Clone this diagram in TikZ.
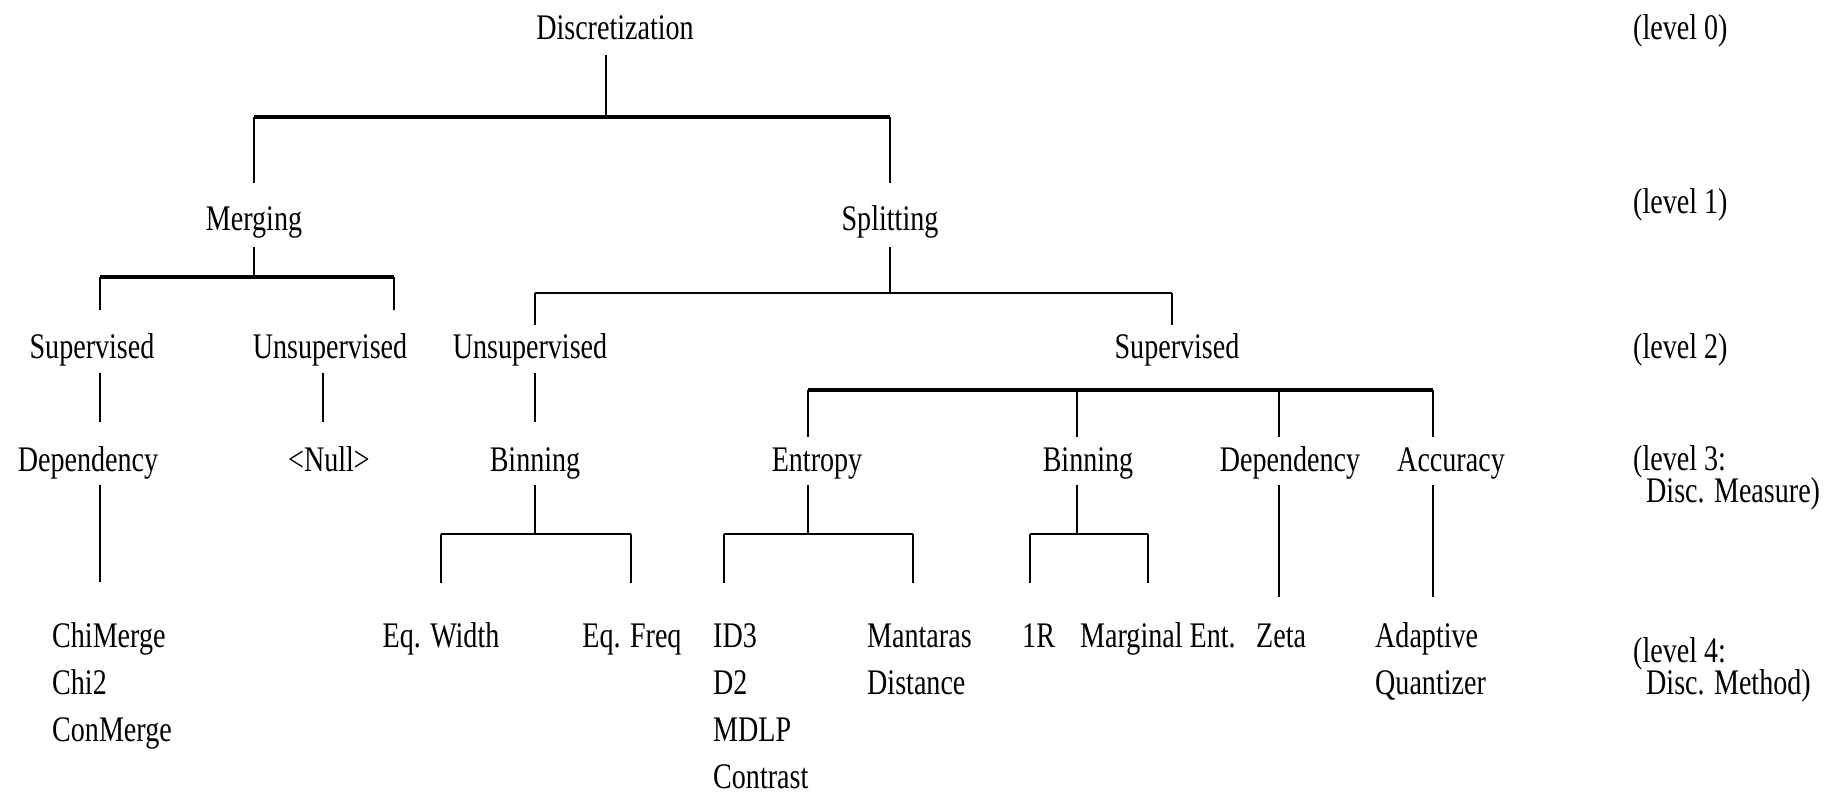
\documentclass[tikz,border=0pt]{standalone}
\usepackage{fontspec}
\setmainfont{Liberation Serif}[FakeStretch=0.78]
\newcommand{\mystack}[2]{\vtop{\baselineskip=#1\lineskiplimit=-100pt\lineskip=0pt #2}}
\begin{document}
\begin{tikzpicture}[x=1pt,y=-1pt,
  lbl/.style={inner sep=0pt,anchor=base,font=\fontsize{36}{40}\selectfont},
  lblw/.style={lbl,anchor=base west},
  thk/.style={line width=3.5pt},
  med/.style={line width=2.2pt},
  thn/.style={line width=1.1pt}]
\useasboundingbox[fill=white] (0,0) rectangle (1829,795);

% level 0
\node[lbl] (disc) at (615,39) {Discretization};
% level 1
\node[lbl] (merg) at (254,230) {Merging};
\node[lbl] (split) at (890,230) {Splitting};
% level 2
\node[lbl] (msup) at (92,358) {Supervised};
\node[lbl] (muns) at (330,358) {Unsupervised};
\node[lbl] (suns) at (530,358) {Unsupervised};
\node[lbl] (ssup) at (1177,358) {Supervised};
% level 3
\node[lbl] (mdep) at (88,471) {Dependency};
\node[lbl] (null) at (329,471) {\textless Null\textgreater};
\node[lbl] (ubin) at (535,471) {Binning};
\node[lbl] (ent) at (817,471) {Entropy};
\node[lbl] (sbin) at (1088,471) {Binning};
\node[lbl] (sdep) at (1290,471) {Dependency};
\node[lbl] (acc) at (1451,471) {Accuracy};
% level 4
\node[lblw] (chim) at (52,647) {\mystack{47pt}{\hbox{ChiMerge}\hbox{Chi2}\hbox{ConMerge}}};
\node[lbl] (eqw) at (441,647) {Eq. Width};
\node[lbl] (eqf) at (632,647) {Eq. Freq};
\node[lblw] (id3) at (713,647) {\mystack{47pt}{\hbox{ID3}\hbox{D2}\hbox{MDLP}\hbox{Contrast}}};
\node[lblw] (mant) at (867,647) {\mystack{47pt}{\hbox{Mantaras}\hbox{Distance}}};
\node[lblw] (oner) at (1022,647) {1R};
\node[lblw] (marg) at (1080,647) {Marginal Ent.};
\node[lblw] (zeta) at (1256,647) {Zeta};
\node[lblw] (adap) at (1375,647) {\mystack{47pt}{\hbox{Adaptive}\hbox{Quantizer}}};
% level labels
\node[lblw] (l0) at (1633,39) {(level 0)};
\node[lblw] (l1) at (1633,213) {(level 1)};
\node[lblw] (l2) at (1633,358) {(level 2)};
\node[lblw] (l3) at (1633,470) {\mystack{32pt}{\hbox{(level 3:}\hbox{\hspace*{13pt}Disc. Measure)}}};
\node[lblw] (l4) at (1633,662) {\mystack{32pt}{\hbox{(level 4:}\hbox{\hspace*{13pt}Disc. Method)}}};

% junction coordinates
\coordinate (disc-s) at (606,55);
\coordinate (j0) at (606,117);
\coordinate (j0l) at (254,117);
\coordinate (j0r) at (890,117);
\coordinate (merg-n) at (254,183);
\coordinate (split-n) at (890,183);
\coordinate (merg-s) at (254,247);
\coordinate (j1) at (254,277);
\coordinate (j1l) at (100,277);
\coordinate (j1r) at (394,277);
\coordinate (msup-n) at (100,310);
\coordinate (muns-n) at (394,310);
\coordinate (split-s) at (890,247);
\coordinate (j2) at (890,293);
\coordinate (j2l) at (535,293);
\coordinate (j2r) at (1172,293);
\coordinate (suns-n) at (535,325);
\coordinate (ssup-n) at (1172,325);
\coordinate (msup-s) at (100,373);
\coordinate (mdep-n) at (100,422);
\coordinate (muns-s) at (323,373);
\coordinate (null-n) at (323,422);
\coordinate (suns-s) at (535,373);
\coordinate (ubin-n) at (535,422);
\coordinate (j3l) at (808,390);
\coordinate (j3b) at (1077,390);
\coordinate (j3d) at (1279,390);
\coordinate (j3r) at (1433,390);
\coordinate (ent-n) at (808,437);
\coordinate (sbin-n) at (1077,437);
\coordinate (sdep-n) at (1279,437);
\coordinate (acc-n) at (1433,437);
\coordinate (mdep-s) at (100,485);
\coordinate (chim-n) at (100,582);
\coordinate (ubin-s) at (535,485);
\coordinate (j4) at (535,534);
\coordinate (j4l) at (441,534);
\coordinate (j4r) at (631,534);
\coordinate (eqw-n) at (441,583);
\coordinate (eqf-n) at (631,583);
\coordinate (ent-s) at (808,485);
\coordinate (j5) at (808,534);
\coordinate (j5l) at (724,534);
\coordinate (j5r) at (913,534);
\coordinate (id3-n) at (724,583);
\coordinate (mant-n) at (913,583);
\coordinate (sbin-s) at (1077,485);
\coordinate (j6) at (1077,534);
\coordinate (j6l) at (1030,534);
\coordinate (j6r) at (1148,534);
\coordinate (oner-n) at (1030,583);
\coordinate (marg-n) at (1148,583);
\coordinate (sdep-s) at (1279,485);
\coordinate (zeta-n) at (1279,597);
\coordinate (acc-s) at (1433,485);
\coordinate (adap-n) at (1433,597);

% connectors
\draw[thn] (disc-s) -- (j0);
\draw[thk] (j0l) -- (j0r);
\draw[med] (j0l) -- (merg-n);
\draw[med] (j0r) -- (split-n);
\draw[med] (merg-s) -- (j1);
\draw[thk] (j1l) -- (j1r);
\draw[thn] (j1l) -- (msup-n);
\draw[thn] (j1r) -- (muns-n);
\draw[med] (split-s) -- (j2);
\draw[med] (j2l) -- (j2r);
\draw[med] (j2l) -- (suns-n);
\draw[med] (j2r) -- (ssup-n);
\draw[thn] (msup-s) -- (mdep-n);
\draw[thn] (muns-s) -- (null-n);
\draw[med] (suns-s) -- (ubin-n);
\draw[thk] (j3l) -- (j3r);
\draw[med] (j3l) -- (ent-n);
\draw[med] (j3b) -- (sbin-n);
\draw[thn] (j3d) -- (sdep-n);
\draw[med] (j3r) -- (acc-n);
\draw[thn] (mdep-s) -- (chim-n);
\draw[med] (ubin-s) -- (j4);
\draw[thn] (j4l) -- (j4r);
\draw[thn] (j4l) -- (eqw-n);
\draw[thn] (j4r) -- (eqf-n);
\draw[med] (ent-s) -- (j5);
\draw[thn] (j5l) -- (j5r);
\draw[thn] (j5l) -- (id3-n);
\draw[thn] (j5r) -- (mant-n);
\draw[med] (sbin-s) -- (j6);
\draw[thn] (j6l) -- (j6r);
\draw[thn] (j6l) -- (oner-n);
\draw[thn] (j6r) -- (marg-n);
\draw[thn] (sdep-s) -- (zeta-n);
\draw[med] (acc-s) -- (adap-n);
\end{tikzpicture}
\end{document}
